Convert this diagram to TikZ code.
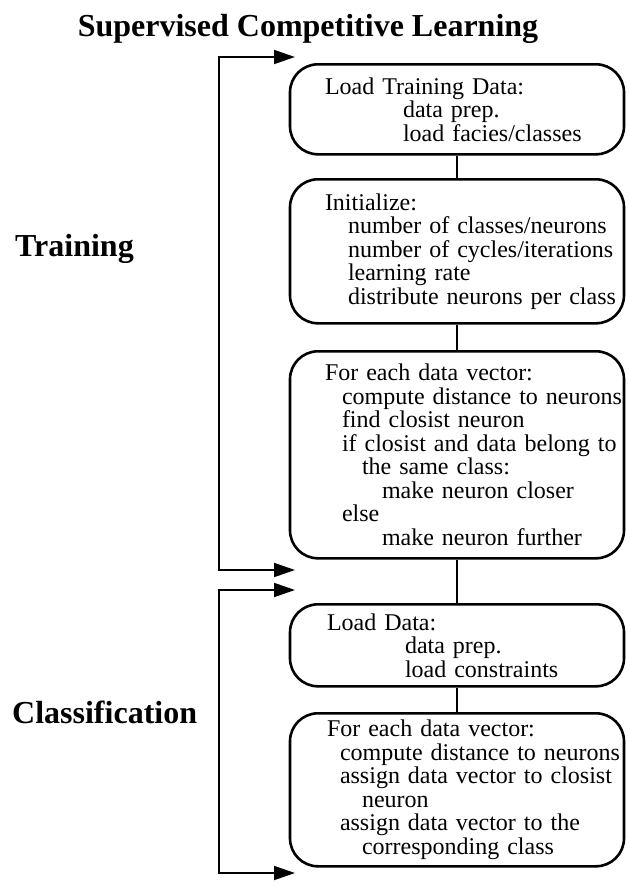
\documentclass[tikz,border=0pt]{standalone}
\usepackage{fontspec}
\setmainfont{Liberation Serif}
\usetikzlibrary{arrows.meta}
\setlength{\parindent}{0pt}
\hyphenpenalty=10000
\newcommand{\ind}[1]{\hspace*{#1pt}}
\tikzset{
  stepbox/.style={draw, line width=2.6pt, rounded corners=28pt, text width=330pt, inner xsep=2pt, inner ysep=4pt, align=left, anchor=north, font=\fontsize{24pt}{23.5pt}\selectfont},
  link/.style={line width=2.6pt},
  bracket/.style={line width=1.8pt, {Triangle[length=21pt,width=14pt]}-{Triangle[length=21pt,width=14pt]}},
  heading/.style={font=\fontsize{32pt}{32pt}\selectfont\bfseries, inner sep=0pt}
}
\begin{document}
\begin{tikzpicture}[x=1pt, y=-1pt]
    \useasboundingbox (0,0) rectangle (629,886);
    \node[heading, anchor=base] (title) at (308,36) {Supervised Competitive Learning};
    \node[heading, anchor=base west] (train) at (15,256) {Training};
    \node[heading, anchor=base west] (classify) at (12,723) {Classification};
    % training steps
    \node[stepbox, minimum height=90pt] (load) at (457,63) {\ind{33}Load Training Data:\\ \ind{111}data prep.\\ \ind{111}load facies/classes};
    \node[stepbox, minimum height=144pt] (init) at (457,178) {\ind{33}Initialize:\\ \ind{56}number of classes/neurons\\ \ind{56}number of cycles/iterations\\ \ind{56}learning rate\\ \ind{56}distribute neurons per class};
    \node[stepbox, minimum height=207pt] (update) at (457,350) {\ind{33}For each data vector:\\ \ind{50}compute distance to neurons\\ \ind{50}find closist neuron\\ \ind{50}if closist and data belong to\\ \ind{70}the same class:\\ \ind{90}make neuron closer\\ \ind{50}else\\ \ind{90}make neuron further};
    % classification steps
    \node[stepbox, minimum height=82pt] (loadnew) at (457,603) {\ind{35}Load Data:\\ \ind{113}data prep.\\ \ind{113}load constraints};
    \node[stepbox, minimum height=153pt] (assign) at (457,712) {\ind{35}For each data vector:\\ \ind{48}compute distance to neurons\\ \ind{48}assign data vector to closist\\ \ind{70}neuron\\ \ind{48}assign data vector to the\\ \ind{70}corresponding class};
    \draw[link] (load.south) -- (init.north);
    \draw[link] (init.south) -- (update.north);
    \draw[link] (update.south) -- (loadnew.north);
    \draw[link] (loadnew.south) -- (assign.north);
    % brackets
    \coordinate (spine) at (219,0);
    \coordinate (trtop) at (295,57);
    \coordinate (trbot) at (295,570);
    \coordinate (cltop) at (295,590);
    \coordinate (clbot) at (295,873);
    \draw[bracket] (trtop) -- (trtop -| spine) -- (trbot -| spine) -- (trbot);
    \draw[bracket] (cltop) -- (cltop -| spine) -- (clbot -| spine) -- (clbot);
\end{tikzpicture}
\end{document}
